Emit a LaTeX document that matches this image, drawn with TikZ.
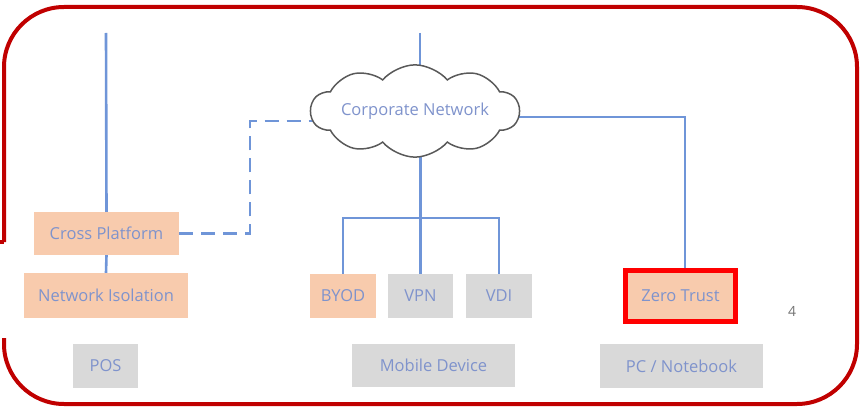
\documentclass[tikz,border=0pt]{standalone}
\usepackage{fontspec}
\setmainfont{Open Sans}
\usetikzlibrary{shapes.symbols,backgrounds}
\definecolor{linkblue}{HTML}{6F95D8}
\definecolor{txtblue}{HTML}{7F93CC}
\definecolor{peach}{HTML}{F8CBAD}
\definecolor{lgray}{HTML}{D9D9D9}
\definecolor{frame}{HTML}{C00000}
\tikzset{
  boxbase/.style={inner sep=0pt, text=txtblue, font=\fontsize{16.5}{19}\selectfont, anchor=center},
  peachbox/.style={boxbase, fill=peach},
  graybox/.style={boxbase, fill=lgray},
  link/.style={draw=linkblue, line width=2.6pt},
  dashlink/.style={link, dash pattern=on 14pt off 8pt},
  border/.style={draw=frame, line width=4pt}
}
\begin{document}
\begin{tikzpicture}[x=1pt,y=-1pt]
\useasboundingbox (0,0) rectangle (862,409);
% frame
\draw[border, rounded corners=60pt] (4,242) -- (4,7) -- (857,7) -- (857,404) -- (4,404) -- (4,338);
\draw[border] (0,242) -- (4,242);
% nodes
\node[peachbox, minimum width=145pt, minimum height=43pt] (cp) at (106.5,233.5) {Cross Platform};
\node[peachbox, minimum width=164pt, minimum height=45pt] (ni) at (106,295.5) {Network Isolation};
\node[graybox, minimum width=65pt, minimum height=44pt] (pos) at (105.5,366) {POS};
\node[cloud, cloud puffs=10, cloud puff arc=100, aspect=3.2, draw=black!65, line width=1.5pt, fill=white,
      minimum width=196pt, minimum height=58pt, inner sep=0pt, text=txtblue,
      font=\fontsize{16.5}{19}\selectfont] (cloud) at (415,111) {Corporate Network};
\node[peachbox, minimum width=66pt, minimum height=44pt] (byod) at (343,296) {BYOD};
\node[graybox, minimum width=65pt, minimum height=44pt] (vpn) at (420.5,296) {VPN};
\node[graybox, minimum width=66pt, minimum height=44pt] (vdi) at (499,296) {VDI};
\node[graybox, minimum width=163pt, minimum height=43pt] (mob) at (433.5,365.5) {Mobile Device};
\node[peachbox, draw=red, line width=5pt, minimum width=110pt, minimum height=51pt] (zt) at (680.5,296) {Zero Trust};
\node[graybox, minimum width=163pt, minimum height=44pt] (pc) at (681.5,366) {PC / Notebook};
\node[text=black!55, font=\fontsize{14}{16}\selectfont, inner sep=0pt] (pg) at (792,311) {4};
% connectors
\coordinate (t1) at (106,33);
\coordinate (t2) at (420,33);
\coordinate (c3) at (685,117);
\coordinate (d1) at (250,121);
\coordinate (br) at (420,218);
\begin{pgfonlayer}{background}
\draw[link] (t1) -- (cp.north);
\draw[link] (cp.south) -- (ni.north);
\draw[link] (t2) -- (t2 |- cloud.center);
\draw[link] (vpn.north) -- (vpn.north |- cloud.center);
\draw[link] (byod.north) |- (br) -| (vdi.north);
\draw[link] (cloud.center |- c3) -- (c3) -- (c3 |- zt.north);
\draw[dashlink] (cp.east) -| (d1) -- (d1 -| cloud.center);
\end{pgfonlayer}
\end{tikzpicture}
\end{document}
